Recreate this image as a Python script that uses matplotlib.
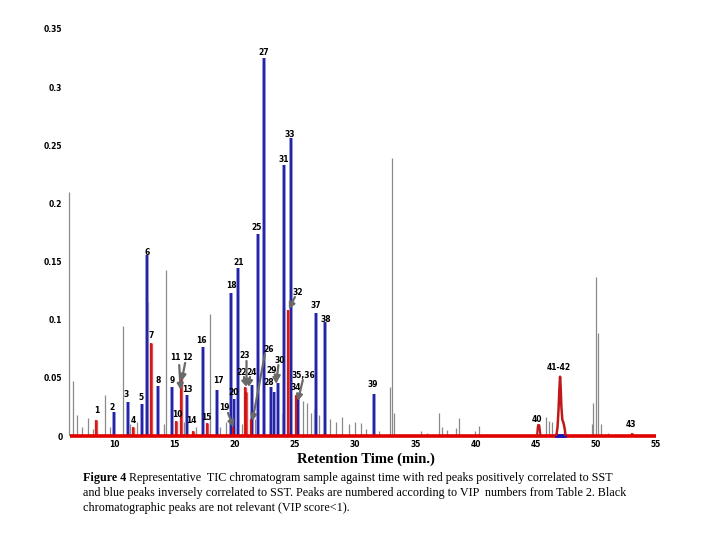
import matplotlib
matplotlib.use("Agg")
import matplotlib.pyplot as plt

# ---- data ----
# grey (not relevant) peaks: retention time (min), height
grey_t = [6.27, 6.58, 6.9, 7.3, 7.82, 8.2, 9.2, 9.6, 10.72, 11.3, 11.9, 12.8,
          14.1, 14.33, 15.8, 16.8, 17.98, 18.8, 19.3, 20.6, 21.7, 22.9, 23.9,
          25.7, 26.0, 26.3, 26.6, 27.0, 27.9, 28.4, 28.9, 29.5, 30.0, 30.46,
          30.9, 32.0, 32.9, 33.03, 33.2, 35.5, 36.0, 36.95, 37.2, 37.6, 38.4,
          38.6, 40.0, 40.26, 41.0, 43.0, 45.9, 46.1, 46.4, 49.7, 49.79, 50.0,
          50.15, 50.4, 51.0]
grey_h = [0.21, 0.047, 0.018, 0.008, 0.0155, 0.006, 0.035, 0.008, 0.095, 0.01,
          0.012, 0.115, 0.01, 0.143, 0.012, 0.008, 0.105, 0.008, 0.012, 0.01,
          0.015, 0.01, 0.02, 0.03, 0.028, 0.02, 0.023, 0.018, 0.015, 0.012,
          0.016, 0.01, 0.012, 0.011, 0.006, 0.004, 0.042, 0.239, 0.02, 0.004,
          0.003, 0.0195, 0.008, 0.005, 0.007, 0.0155, 0.004, 0.0086, 0.002,
          0.002, 0.016, 0.013, 0.012, 0.01, 0.028, 0.137, 0.0885, 0.01, 0.003]

# red peaks (positively correlated to SST)
red_t = [8.51, 11.55, 13.07, 15.14, 15.55, 16.52, 17.68, 19.85, 20.85, 20.95,
         21.35, 24.39, 25.08, 52.97]
red_h = [0.0138, 0.008, 0.0797, 0.0132, 0.051, 0.0043, 0.0114, 0.008, 0.0424,
         0.038, 0.015, 0.1083, 0.035, 0.0023]

# blue peaks (inversely correlated to SST)
blue_t = [9.94, 11.10, 12.29, 12.73, 13.62, 14.81, 16.05, 17.35, 18.51, 19.69,
          19.97, 20.25, 21.4, 21.95, 22.45, 23.0, 23.28, 23.56, 24.06, 24.66,
          25.27, 26.79, 27.48, 31.57]
blue_h = [0.021, 0.0295, 0.0275, 0.1556, 0.0433, 0.0424, 0.0353, 0.0768,
          0.0396, 0.1232, 0.0316, 0.1442, 0.0438, 0.1737, 0.3248, 0.0419,
          0.038, 0.0453, 0.233, 0.256, 0.034, 0.106, 0.0983, 0.036]

# broad red peaks 40 and 41-42 (outline read point by point)
p40_t = [45.12, 45.18, 45.22, 45.3, 45.34, 45.4]
p40_h = [0.0, 0.008, 0.0095, 0.0093, 0.006, 0.0]
p41_t = [46.72, 46.82, 46.9, 46.97, 47.03, 47.08, 47.14, 47.22, 47.32, 47.42, 47.48]
p41_h = [0.0, 0.008, 0.022, 0.04, 0.051, 0.042, 0.025, 0.014, 0.011, 0.006, 0.0]

# peak numbers (VIP order) and where they sit
labels = ["27", "33", "31", "25", "6", "21", "18", "32", "37", "38", "7", "16",
          "26", "11", "12", "23", "30", "22", "24", "29", "35,36", "41-42",
          "8", "9", "17", "28", "39", "34", "13", "20", "3", "5", "2", "1",
          "19", "10", "15", "14", "4", "40", "43"]
label_t = [22.43, 24.58, 24.08, 21.85, 12.73, 20.36, 19.69, 25.24, 26.74, 27.56,
           13.07, 17.21, 22.84, 15.05, 16.05, 20.85, 23.75, 20.6, 21.43, 23.09,
           25.74, 46.95, 13.65, 14.81, 18.62, 22.84, 31.46, 25.08, 16.05, 19.94,
           10.99, 12.24, 9.83, 8.51, 19.11, 15.22, 17.62, 16.38, 11.57, 45.13,
           52.92]
label_h = [0.330, 0.2597, 0.2382, 0.1797, 0.1582, 0.1496, 0.129, 0.1238, 0.1126,
           0.1006, 0.086, 0.0825, 0.0748, 0.0671, 0.0671, 0.0688, 0.0645, 0.0542,
           0.0542, 0.0559, 0.0516, 0.0585, 0.0473, 0.0473, 0.0473, 0.0456, 0.0447,
           0.0421, 0.0404, 0.0378, 0.0353, 0.0335, 0.0249, 0.0215, 0.0241, 0.0189,
           0.0155, 0.0129, 0.0129, 0.0138, 0.0103]

# arrows from label to peak: (tail t, tail h, head t, head h)
arrows = [(15.39, 0.061, 15.51, 0.0396), (15.88, 0.0628, 15.59, 0.0473),
          (19.44, 0.0198, 19.90, 0.0077), (20.77, 0.0507, 20.98, 0.0421),
          (20.98, 0.0645, 20.98, 0.043), (21.27, 0.0507, 21.14, 0.0421),
          (22.51, 0.0705, 21.47, 0.0129), (23.42, 0.0524, 23.46, 0.0447),
          (23.63, 0.061, 23.46, 0.0464), (25.66, 0.0482, 25.24, 0.0301),
          (25.0, 0.1195, 24.5, 0.1092)]

xticks = [10, 15, 20, 25, 30, 35, 40, 45, 50, 55]
yticks = [0, 0.05, 0.1, 0.15, 0.2, 0.25, 0.3, 0.35]
ytick_labels = ["0", "0.05", "0.1", "0.15", "0.2", "0.25", "0.3", "0.35"]

# ---- plot ----
fig = plt.figure(figsize=(7.2, 5.4), dpi=100)
ax = fig.add_axes([68 / 720, 1 - 436 / 540, 588 / 720, 407 / 540])

ax.vlines(grey_t, 0, grey_h, color="#8a8a8a", lw=0.9, zorder=1)
ax.vlines(blue_t, 0, blue_h, color="#8080d8", lw=2.6, zorder=2)
ax.vlines(blue_t, 0, blue_h, color="#12129a", lw=1.2, zorder=3)
ax.vlines(red_t, 0, red_h, color="#e05050", lw=2.4, zorder=2)
ax.vlines(red_t, 0, red_h, color="#d01010", lw=1.2, zorder=3)

ax.plot([6.3, 55], [0, 0], color="#e00000", lw=2.6, zorder=4,
        solid_capstyle="butt", clip_on=False)
ax.plot([46.8, 47.4], [0, 0], color="#1010c0", lw=2.6, zorder=5, clip_on=False)
ax.plot(p40_t, p40_h, color="#c01818", lw=1.6, zorder=5)
ax.plot(p41_t, p41_h, color="#c01818", lw=1.8, zorder=5)

for txt, t, h in zip(labels, label_t, label_h):
    ax.text(t, h, txt, fontsize=5.5, fontweight="bold", ha="center",
            va="center", zorder=6)

for t0, h0, t1, h1 in arrows:
    ax.annotate("", xy=(t1, h1), xytext=(t0, h0), zorder=6,
                arrowprops=dict(arrowstyle="-|>,head_length=0.35,head_width=0.18",
                                color="#6a6a6a", lw=1.6, shrinkA=0, shrinkB=0))

ax.set_xlim(6.15, 55)
ax.set_ylim(0, 0.35)
ax.set_xticks(xticks)
ax.set_xticklabels([str(x) for x in xticks], fontsize=5.5, fontweight="bold")
ax.set_yticks(yticks)
ax.set_yticklabels(ytick_labels, fontsize=5.5, fontweight="bold")
ax.tick_params(axis="x", length=0, pad=3)
ax.tick_params(axis="y", length=0, pad=4)
for s in ax.spines.values():
    s.set_visible(False)

fig.text(366 / 720, 1 - 459 / 540, "Retention Time (min.)", family="Liberation Serif",
         fontsize=10.5, fontweight="bold", ha="center", va="center")

# caption
cap_x = 83 / 720
bold = fig.text(cap_x, 1 - 478 / 540, "Figure 4", family="Liberation Serif",
                fontsize=8.75, fontweight="bold", va="center")
fig.canvas.draw()
bb = bold.get_window_extent()
fig.text((bb.x1 + 3) / 720, 1 - 478 / 540,
         "Representative  TIC chromatogram sample against time with red peaks positively correlated to SST",
         family="Liberation Serif", fontsize=8.75, va="center")
fig.text(cap_x, 1 - 493 / 540,
         "and blue peaks inversely correlated to SST. Peaks are numbered according to VIP  numbers from Table 2. Black",
         family="Liberation Serif", fontsize=8.75, va="center")
fig.text(cap_x, 1 - 508 / 540,
         "chromatographic peaks are not relevant (VIP score<1).",
         family="Liberation Serif", fontsize=8.75, va="center")

fig.savefig("out.png", dpi=100)
